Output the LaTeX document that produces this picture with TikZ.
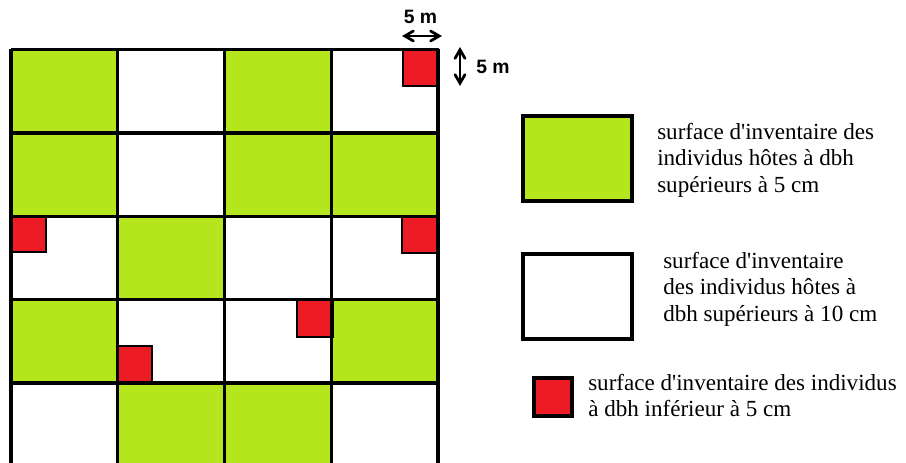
\documentclass[tikz,border=0pt]{standalone}
\usepackage{fontspec}
\setmainfont{Liberation Serif}
\newfontfamily\dimfont{Liberation Sans}
\usetikzlibrary{arrows,calc}

\definecolor{plotgreen}{HTML}{B5E61D}
\definecolor{plotred}{HTML}{ED1C24}
\newcommand{\ap}{\textquotesingle}

\begin{document}
\begin{tikzpicture}[x=0.75pt,y=-0.75pt,
    gridline/.style={line width=2.6pt},
    subplot/.style={fill=plotred,draw=black,line width=2pt},
    legendbox/.style={draw=black,line width=2.6pt,inner sep=0pt},
    legendtext/.style={font=\fontsize{17.3}{19.8}\selectfont,align=left,inner sep=0pt,anchor=north west},
    dimlabel/.style={font=\dimfont\bfseries\fontsize{14.5}{16}\selectfont,inner sep=0pt},
    dimarrow/.style={<->,>=angle 60,line width=2.1pt}]

\useasboundingbox (0,0) rectangle (906,463);
\clip (0,0) rectangle (906,463);

\def\cw{106.75}
\def\ch{83.4}
\coordinate (o) at (11,49.5);

\foreach \c/\r in {0/0,2/0,0/1,2/1,3/1,1/2,0/3,3/3,1/4,2/4}
    \fill[plotgreen] ($(o)+(\c*\cw,\r*\ch)$) rectangle ++(\cw,\ch);

\draw[subplot] (403,49.5) rectangle (438,86);
\draw[subplot] (11,216.3) rectangle (46,252);
\draw[subplot] (402,216.3) rectangle (438,253);
\draw[subplot] (297,299.7) rectangle (332.5,337);
\draw[subplot] (117,346) rectangle (152,383.1);

\foreach \r in {0,...,4}
    \draw[gridline] ($(o)+(0,\r*\ch)$) -- ++(4*\cw,0);
\foreach \c in {0,...,4}
    \draw[gridline] ($(o)+(\c*\cw,0)$) -- ++(0,420);

\coordinate (hl) at (402,36);
\coordinate (hr) at (442,36);
\coordinate (vt) at (460,47);
\coordinate (vb) at (460,86);
\draw[dimarrow] (hl) -- (hr);
\draw[dimarrow] (vt) -- (vb);
\node[dimlabel] (dimtop) at (420.5,17) {5 m};
\node[dimlabel] (dimside) at (493,67) {5 m};

\node[legendbox,fill=plotgreen,minimum width=81.75pt,minimum height=63.75pt] (greenkey) at (577.5,158.5) {};
\node[legendbox,fill=white,minimum width=81.75pt,minimum height=63.75pt] (whitekey) at (577.5,296.5) {};
\node[legendbox,fill=plotred,minimum width=28.5pt,minimum height=28.5pt] (redkey) at (553,397) {};

\node[legendtext] (greentext) at (657,123) {surface d\ap inventaire des\\individus hôtes à dbh\\supérieurs à 5 cm};
\node[legendtext] (whitetext) at (663,252) {surface d\ap inventaire\\des individus hôtes à\\dbh supérieurs à 10 cm};
\node[legendtext] (redtext) at (588,374) {surface d\ap inventaire des individus\\à dbh inférieur à 5 cm};

\end{tikzpicture}
\end{document}
